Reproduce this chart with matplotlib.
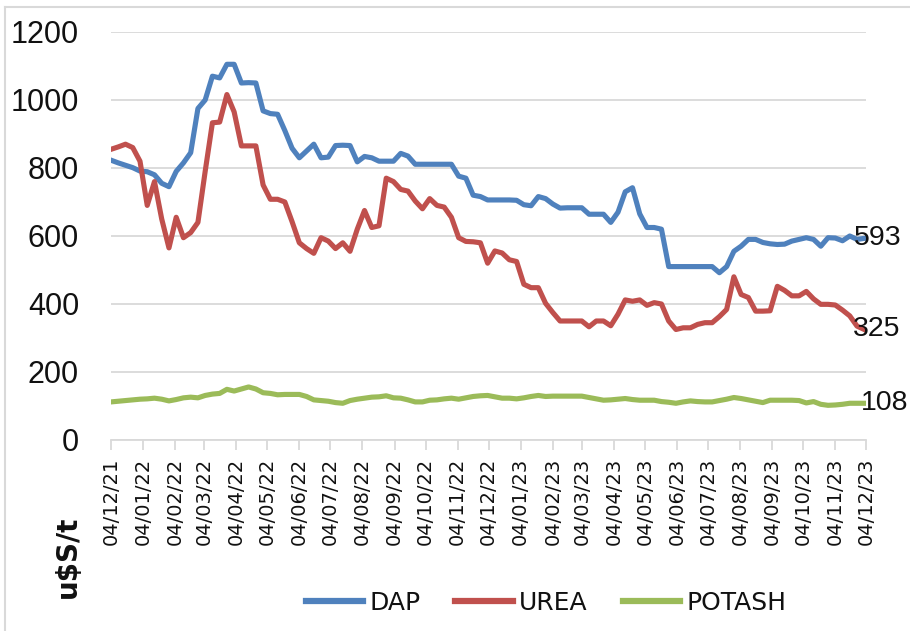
import numpy as np
import pandas as pd
import matplotlib
matplotlib.use("Agg")
import matplotlib.pyplot as plt
import matplotlib.dates as mdates
from matplotlib.lines import Line2D

# weekly prices, u$S/t
dates = pd.date_range("2021-12-04", periods=105, freq="7D")

dap = [823, 815, 808, 801, 791, 789, 780, 755, 745, 790,
       815, 845, 975, 1000, 1070, 1065, 1105, 1105, 1050, 1051,
       1050, 968, 960, 958, 910, 858, 830, 850, 870, 830,
       832, 866, 867, 866, 818, 834, 830, 820, 820, 820,
       843, 835, 811, 811, 811, 811, 811, 811, 776, 770,
       720, 716, 706, 706, 706, 706, 705, 692, 689, 716,
       710, 694, 682, 683, 683, 683, 664, 664, 664, 640,
       670, 730, 742, 665, 625, 625, 620, 510, 510, 510,
       510, 510, 510, 510, 492, 510, 555, 570, 590, 590,
       581, 577, 575, 576, 585, 590, 595, 590, 570, 595,
       594, 586, 600, 590, 593]

urea = [855, 862, 870, 860, 820, 690, 760, 650, 565, 655,
        595, 610, 640, 790, 933, 935, 1016, 965, 865, 865,
        865, 750, 708, 708, 700, 642, 580, 563, 549, 595,
        585, 563, 580, 555, 620, 675, 625, 630, 770, 760,
        737, 732, 703, 680, 710, 690, 685, 655, 595, 584,
        583, 580, 520, 556, 550, 530, 525, 458, 448, 448,
        402, 375, 350, 350, 350, 350, 333, 350, 350, 336,
        370, 412, 408, 412, 396, 404, 400, 350, 325, 330,
        330, 340, 345, 345, 363, 384, 480, 428, 419, 379,
        379, 380, 452, 440, 424, 424, 437, 415, 399, 399,
        397, 382, 365, 335, 325]

potash = [112, 114, 116, 118, 120, 121, 123, 120, 115, 119,
          124, 126, 124, 131, 135, 137, 149, 144, 150, 156,
          150, 139, 137, 133, 134, 134, 134, 128, 118, 116,
          114, 110, 108, 116, 120, 123, 126, 127, 130, 124,
          123, 118, 112, 112, 117, 118, 121, 123, 120, 124,
          128, 130, 131, 127, 123, 123, 121, 124, 128, 131,
          128, 129, 129, 129, 129, 129, 125, 121, 117, 118,
          120, 122, 119, 117, 117, 117, 113, 111, 108, 112,
          115, 113, 112, 112, 116, 120, 125, 122, 118, 114,
          110, 117, 117, 117, 117, 116, 109, 113, 105, 102,
          103, 105, 108, 108, 108]

series_names = ["DAP", "UREA", "POTASH"]
colors = ["#4f81bd", "#c0504d", "#9bbb59"]
end_offsets = [-10, -11, -3]  # px, where the end labels start

num_font = "Liberation Sans"
txt_color = "#111111"

fig = plt.figure(figsize=(9.1, 6.31), dpi=100)
ax = fig.add_axes([0.122, 0.3027, 0.830, 0.6466])

for name, vals, c, off in zip(series_names, [dap, urea, potash], colors, end_offsets):
    ax.plot(dates, vals, color=c, lw=3.7, solid_joinstyle="round", label=name)
    ax.annotate(str(vals[-1]), xy=(dates[-1], vals[-1]),
                xytext=(off, 0), textcoords="offset pixels",
                ha="left", va="center", fontsize=20.5, family=num_font,
                color=txt_color)

ax.set_ylim(0, 1200)
ax.set_yticks(np.arange(0, 1201, 200))
ax.set_xlim(pd.Timestamp("2021-12-04"), pd.Timestamp("2023-12-04"))
ax.set_xticks(pd.date_range("2021-12-04", "2023-12-04", freq=pd.DateOffset(months=1)))
ax.xaxis.set_major_formatter(mdates.DateFormatter("%d/%m/%y"))

ax.grid(axis="y", color="#d9d9d9", lw=1.3)
ax.set_axisbelow(True)
for s in ["top", "right", "left"]:
    ax.spines[s].set_visible(False)
ax.spines["bottom"].set_color("#d9d9d9")
ax.spines["bottom"].set_linewidth(1.3)

ax.tick_params(axis="y", length=0, pad=23, labelsize=22, labelcolor=txt_color)
for lab in ax.get_yticklabels():
    lab.set_family(num_font)
ax.tick_params(axis="x", direction="out", length=7, width=1.3, color="#d9d9d9",
               pad=6, labelsize=14, labelcolor=txt_color, labelrotation=90)

fig.text(0.075, 0.117, "u$S/t", rotation=90, ha="center", va="center",
         fontsize=20, fontweight="bold", color=txt_color)

handles = [Line2D([0], [0], color=c, lw=4.5) for c in colors]
fig.legend(handles, series_names, loc="center", bbox_to_anchor=(0.6, 0.044),
           ncol=3, frameon=False, fontsize=18, handlelength=2.3,
           handletextpad=0.25, columnspacing=1.4, labelcolor=txt_color)

# light frame of the chart area (left and top edges show)
fig.add_artist(Line2D([0.005, 0.005], [0, 0.989], color="#d9d9d9", lw=1.5,
                      transform=fig.transFigure))
fig.add_artist(Line2D([0.005, 1.0], [0.989, 0.989], color="#d9d9d9", lw=1.5,
                      transform=fig.transFigure))

fig.savefig("out.png", dpi=100)
